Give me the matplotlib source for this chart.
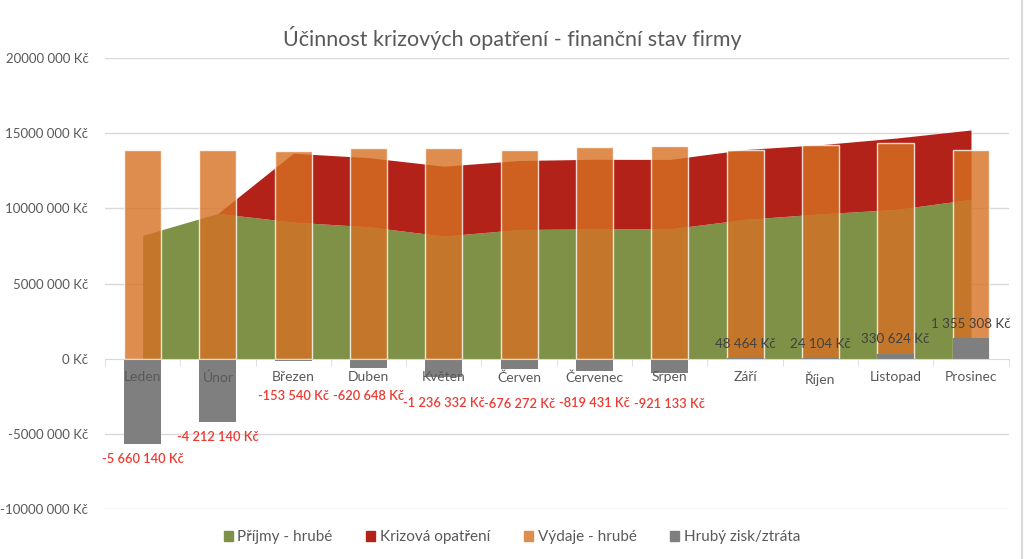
import numpy as np
import matplotlib
matplotlib.use("Agg")
import matplotlib.pyplot as plt
from matplotlib.patches import Patch
from matplotlib.ticker import FuncFormatter, FixedLocator

plt.rcParams['font.family'] = ['Lato', 'DejaVu Sans']

mesice = ["Leden", "Únor", "Březen", "Duben", "Květen", "Červen",
          "Červenec", "Srpen", "Září", "Říjen", "Listopad", "Prosinec"]

# hodnoty v Kč
prijmy = [8210000, 9670000, 9090000, 8780000, 8160000, 8600000,
          8640000, 8640000, 9270000, 9640000, 9930000, 10600000]
krizova = [0, 0, 4580000, 4600000, 4650000, 4590000,
           4630000, 4620000, 4650000, 4600000, 4750000, 4620000]
vydaje = [13870000, 13880000, 13820000, 14000000, 14050000, 13870000,
          14090000, 14180000, 13870000, 14220000, 14350000, 13870000]
zisk = [-5660140, -4212140, -153540, -620648, -1236332, -676272,
        -819431, -921133, 48464, 24104, 330624, 1355308]

# svisla poloha popisku (Kč)
popisek_y = [-6670000, -5200000, -2450000, -2500000, -2950000, -3000000,
             -2950000, -2980000, 1000000, 1000000, 1280000, 2330000]

zelena = "#7E9146"
cervena = "#B22219"
oranzova = "#D67123"
seda = "#7F7F7F"
text_c = "#595959"

x = np.arange(len(mesice))

fig = plt.figure(figsize=(10.24, 5.59), dpi=100)
ax = fig.add_axes([0.1025, 0.0894, 0.8825, 0.8066])

for v in range(-10000000, 20000001, 5000000):
    if v != 0:
        ax.axhline(v, color="#D9D9D9", lw=1, zorder=0)

horni = np.array(prijmy) + np.array(krizova)
ax.fill_between(x, 0, prijmy, color=zelena, lw=0, zorder=1)
ax.fill_between(x[1:], np.array(prijmy)[1:], horni[1:], color=cervena, lw=0, zorder=1)

ax.bar(x, vydaje, width=0.49, color=oranzova, alpha=0.8,
       edgecolor=(1, 1, 1, 0.12), lw=1, zorder=1.5)
ax.bar(x, zisk, width=0.49, color=seda, zorder=2)

for i, (z, py) in enumerate(zip(zisk, popisek_y)):
    txt = f"{z:,}".replace(",", " ") + " Kč"
    if z < 0:
        ax.text(i, py, txt, ha="center", va="center", fontsize=9.3,
                color="#EE3A32", fontweight="semibold", zorder=5)
    else:
        ax.text(i, py, txt, ha="center", va="center", fontsize=9.6,
                color="#404040", zorder=5)

ax.set_xlim(-0.5, 11.5)
ax.set_ylim(-10000000, 20000000)
ax.set_yticks(range(-10000000, 20000001, 5000000))


def fmt(v, pos):
    if v == 0:
        return "0 Kč"
    return f"{v / 1000:.0f} 000 Kč"


ax.yaxis.set_major_formatter(FuncFormatter(fmt))
ax.tick_params(axis="y", length=0, pad=12, labelsize=9.5, labelcolor=text_c)

ax.spines["bottom"].set_position(("data", 0))
ax.spines["bottom"].set_color("#D9D9D9")
for s in ["top", "right", "left"]:
    ax.spines[s].set_visible(False)
ax.set_xticks(x)
ax.set_xticklabels(mesice)
ax.xaxis.set_minor_locator(FixedLocator(np.arange(-0.5, 12, 1)))
ax.tick_params(axis="x", which="major", length=0, pad=9, labelsize=10, labelcolor=text_c)
ax.tick_params(axis="x", which="minor", length=5, color="#D9D9D9")
ax.set_axisbelow(False)
ax.xaxis.set_zorder(4)
ax.spines["bottom"].set_zorder(4)

fig.suptitle("Účinnost krizových opatření - finanční stav firmy",
             x=0.5, y=0.953, fontsize=15.5, color=text_c)

handles = [Patch(color=zelena, label="Příjmy - hrubé"),
           Patch(color=cervena, label="Krizová opatření"),
           Patch(color="#DE8D4E", label="Výdaje - hrubé"),
           Patch(color=seda, label="Hrubý zisk/ztráta")]
fig.legend(handles=handles, loc="center", bbox_to_anchor=(0.5, 0.039), ncol=4,
           frameon=False, fontsize=11, handlelength=0.6, handleheight=0.6,
           handletextpad=0.3, columnspacing=2.2, labelcolor=text_c)

fig.add_artist(plt.Line2D([0.9985, 0.9985], [0, 1], color="#D9D9D9", lw=1.5))

fig.savefig("out.png", dpi=100)
